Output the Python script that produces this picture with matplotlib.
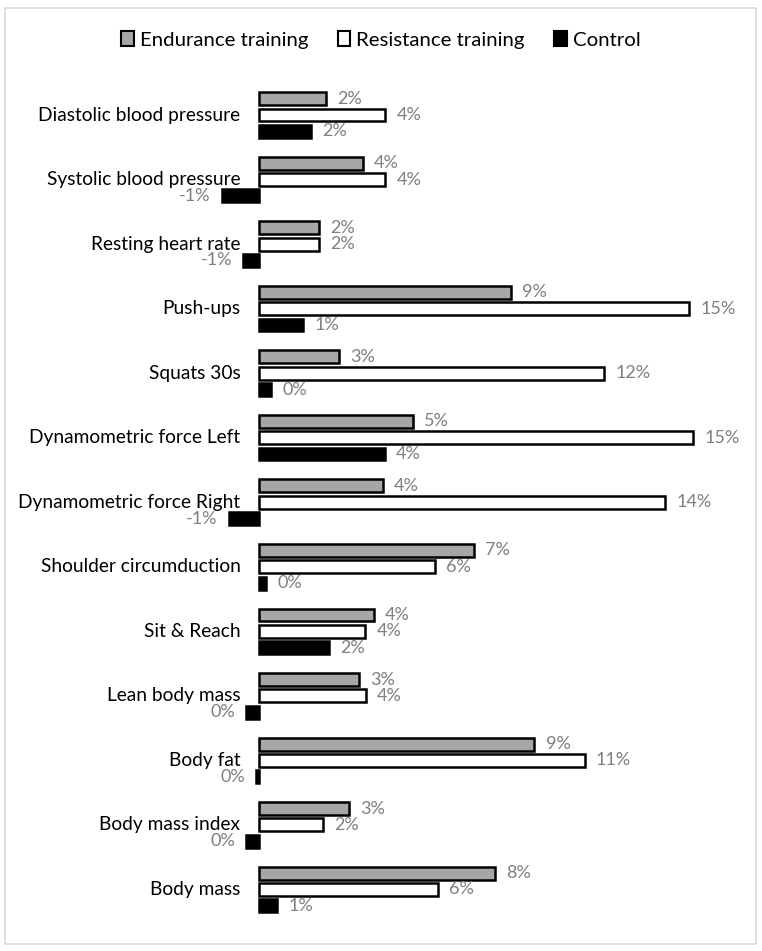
import matplotlib
matplotlib.use("Agg")
import matplotlib.pyplot as plt
from matplotlib.patches import Rectangle, Patch

plt.rcParams['font.family'] = ['Lato', 'DejaVu Sans']

# categories, top to bottom
categories = ["Diastolic blood pressure", "Systolic blood pressure", "Resting heart rate",
              "Push-ups", "Squats 30s", "Dynamometric force Left", "Dynamometric force Right",
              "Shoulder circumduction", "Sit & Reach", "Lean body mass", "Body fat",
              "Body mass index", "Body mass"]

# % change
endurance = [2.36, 3.65, 2.12, 8.83, 2.81, 5.40, 4.34, 7.52, 4.04, 3.50, 9.65, 3.15, 8.27]
resistance = [4.44, 4.44, 2.12, 15.05, 12.08, 15.19, 14.21, 6.17, 3.74, 3.76, 11.40, 2.27, 6.28]
control = [1.85, -1.29, -0.54, 1.56, 0.44, 4.41, -1.04, 0.26, 2.48, -0.44, -0.09, -0.44, 0.66]

# data labels as printed on the chart
endurance_lbl = ["2%", "4%", "2%", "9%", "3%", "5%", "4%", "7%", "4%", "3%", "9%", "3%", "8%"]
resistance_lbl = ["4%", "4%", "2%", "15%", "12%", "15%", "14%", "6%", "4%", "4%", "11%", "2%", "6%"]
control_lbl = ["2%", "-1%", "-1%", "1%", "0%", "4%", "-1%", "0%", "2%", "0%", "0%", "0%", "1%"]

W, H = 762, 951
fig = plt.figure(figsize=(W / 100, H / 100), dpi=100)

# outer light border
fig.patches.append(Rectangle((5 / W, 1 - 944 / H), 751 / W, 936 / H, transform=fig.transFigure,
                             fill=False, edgecolor="#d9d9d9", linewidth=1.2))

ax = fig.add_axes([201.3 / W, 0.02397, 514.8 / W, 0.8958])
ax.set_xlim(-2, 16)
ax.set_ylim(12.6, -0.6)
ax.axis("off")

pitch = 0.253
bh = 0.2
series = [
    (endurance, endurance_lbl, "#a6a6a6", -pitch, "Endurance training"),
    (resistance, resistance_lbl, "white", 0.0, "Resistance training"),
    (control, control_lbl, "black", pitch, "Control"),
]

ypos = list(range(len(categories)))
for vals, lbls, col, off, name in series:
    ys = [y + off for y in ypos]
    ax.barh(ys, vals, height=bh, color=col, edgecolor="black", linewidth=1.8, clip_on=False)
    for y, v, t in zip(ys, vals, lbls):
        if v >= 0:
            ax.annotate(t, (v, y), xytext=(8, 0), textcoords="offset points",
                        ha="left", va="center", fontsize=13, color="#7f7f7f")
        else:
            ax.annotate(t, (v, y), xytext=(-8, 0), textcoords="offset points",
                        ha="right", va="center", fontsize=13, color="#7f7f7f")

for y, name in zip(ypos, categories):
    ax.annotate(name, (0, y), xytext=(-13, 0), textcoords="offset points",
                ha="right", va="center", fontsize=13.8, color="black")

handles = [Patch(facecolor=c, edgecolor="black", linewidth=1.5, label=n) for _, _, c, _, n in series]
fig.legend(handles=handles, loc="center", bbox_to_anchor=(0.5, 1 - 40 / H), ncol=3,
           frameon=False, fontsize=14.7, handlelength=0.6, handleheight=0.75,
           handletextpad=0.3, columnspacing=1.45)

fig.savefig("out.png", dpi=100)
